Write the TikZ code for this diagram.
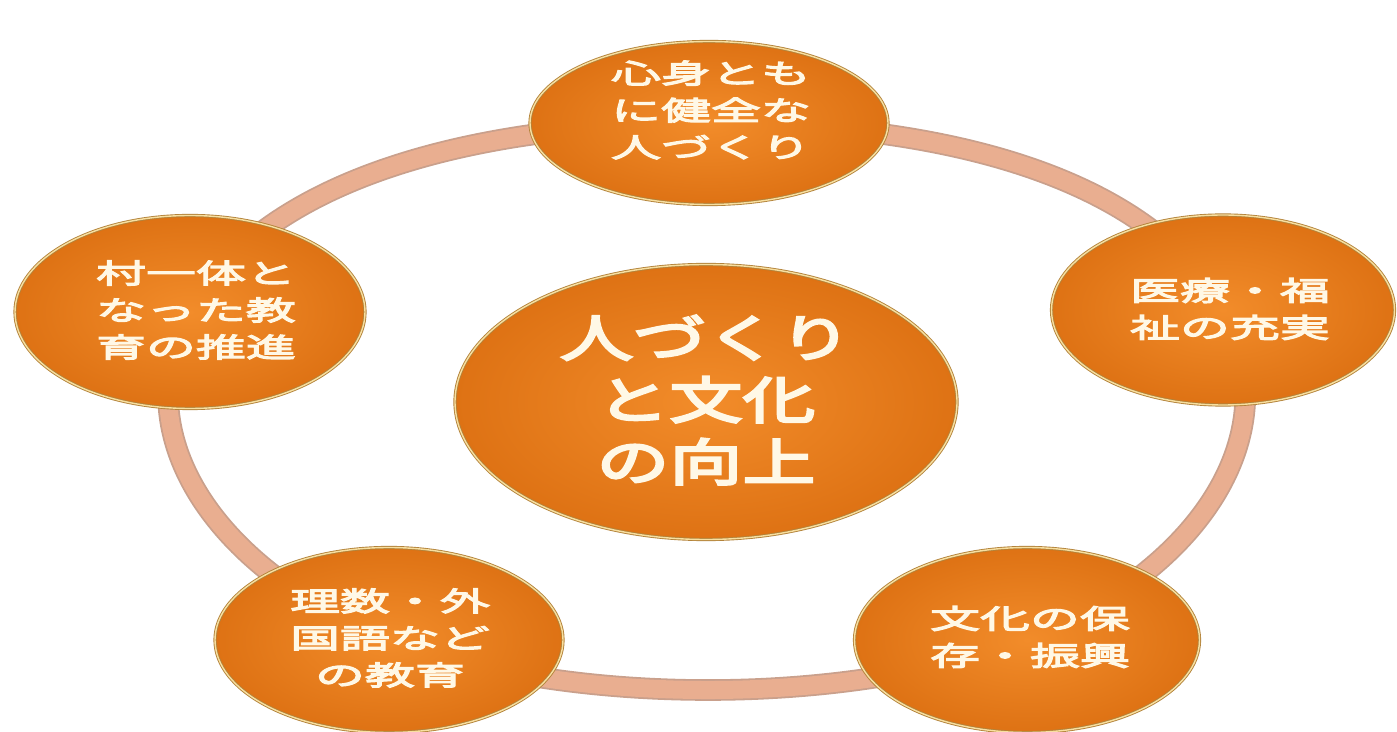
\documentclass[tikz,border=0pt]{standalone}
\usepackage{fontspec}
\usetikzlibrary{shapes.geometric}
\newfontfamily\cjkS[FakeStretch=1.85,FakeBold=4.5]{Noto Sans CJK JP}
\newfontfamily\cjkL[FakeStretch=1.46,FakeBold=5]{Noto Sans CJK JP}
\definecolor{orIn}{HTML}{F28C2A}
\definecolor{orOut}{HTML}{DE7214}
\definecolor{rimC}{HTML}{B3833A}
\definecolor{rimHi}{HTML}{F8DFA0}
\definecolor{ringEdge}{HTML}{C9A08C}
\definecolor{ringFill}{HTML}{E9AE90}
\definecolor{txtC}{HTML}{FFF8E6}
\pgfdeclarelayer{bg}
\pgfsetlayers{bg,main}
\tikzset{
  bub/.style={ellipse, inner sep=0pt, inner color=orIn, outer color=orOut,
    draw=rimC, line width=0.9pt, double=rimHi, double distance=1.4pt},
  ring/.style={draw=ringEdge, line width=1.8pt, double=ringFill, double distance=18pt},
  txtS/.style={text=txtC, align=center, font=\cjkS\fontsize{27}{37}\selectfont},
  txtL/.style={text=txtC, align=center, font=\cjkL\fontsize{50}{62}\selectfont},
}
\begin{document}
\begin{tikzpicture}[x=1pt,y=1pt]
\useasboundingbox (0,0) rectangle (1397,731);
% bubbles
\node[bub, minimum width=358pt, minimum height=163pt] (top) at (709,608) {};
\node[bub, minimum width=350pt, minimum height=193pt] (left) at (190,419) {};
\node[bub, minimum width=343pt, minimum height=190pt] (right) at (1223,421) {};
\node[bub, minimum width=348pt, minimum height=185pt] (bl) at (389,91) {};
\node[bub, minimum width=345pt, minimum height=185pt] (br) at (1027,91) {};
\node[bub, minimum width=502pt, minimum height=275pt] (ctr) at (706,329) {};
% ring connectors
\begin{pgfonlayer}{bg}
\draw[ring] (top.center) to[out=0, in=119, out distance=260pt, in distance=140pt] (right.center);
\draw[ring] (right.center) to[out=-61, in=22, out distance=134pt, in distance=195pt] (br.center);
\draw[ring] (br.center) to[out=-160, in=-20, distance=195pt] (bl.center);
\draw[ring] (bl.center) to[out=158, in=241, out distance=195pt, in distance=134pt] (left.center);
\draw[ring] (left.center) to[out=61, in=180, out distance=140pt, in distance=260pt] (top.center);
\end{pgfonlayer}
% texts
\node[txtS] (topT) at (711,621) {心身とも\\に健全な\\人づくり};
\node[txtS] (leftT) at (196,421) {村一体と\\なった教\\育の推進};
\node[txtS] (rightT) at (1230,422) {医療・福\\祉の充実};
\node[txtS] (blT) at (390,93) {理数・外\\国語など\\の教育};
\node[txtS] (brT) at (1030,94) {文化の保\\存・振興};
\node[txtL] (ctrT) at (706,331) {人づくり\\と文化\\の向上};
\end{tikzpicture}
\end{document}
